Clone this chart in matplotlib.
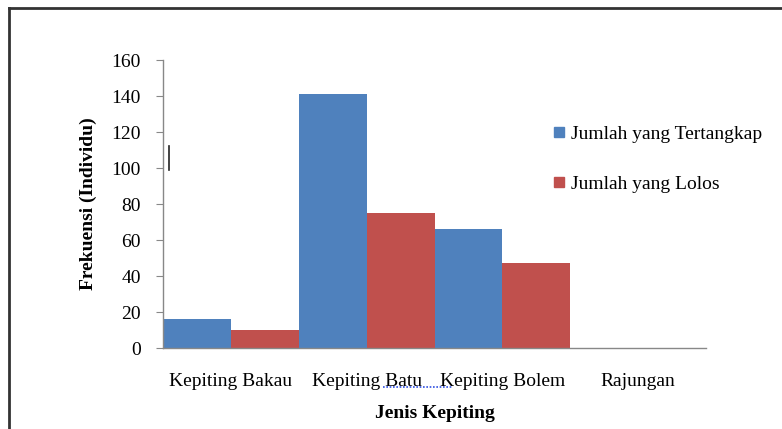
import numpy as np
import matplotlib.pyplot as plt
from matplotlib.lines import Line2D

# Data
jenis = ['Kepiting Bakau', 'Kepiting Batu', 'Kepiting Bolem', 'Rajungan']
tertangkap = [16, 141, 66, 0]
lolos = [10, 75, 47, 0]
series_names = ['Jumlah yang Tertangkap', 'Jumlah yang Lolos']
yticks = [0, 20, 40, 60, 80, 100, 120, 140, 160]

plt.rcParams['font.family'] = ['Liberation Serif', 'DejaVu Serif']

fig = plt.figure(figsize=(7.82, 4.29), dpi=100)
ax = fig.add_axes([0.2084, 0.1888, 0.6946, 0.6712])

x = np.arange(len(jenis))
w = 0.5
ax.bar(x - w / 2, tertangkap, w, color='#4F81BD', label=series_names[0])
ax.bar(x + w / 2, lolos, w, color='#C0504D', label=series_names[1])

ax.set_xlim(-0.5, len(jenis) - 0.5)
ax.set_ylim(0, 160)
ax.set_yticks(yticks)
ax.set_xticks(x)
ax.set_xticklabels(jenis, fontsize=14)
ax.tick_params(axis='y', labelsize=14, length=5, color='#888888', pad=11)
ax.tick_params(axis='x', length=0, pad=18)

for s in ['top', 'right']:
    ax.spines[s].set_visible(False)
for s in ['left', 'bottom']:
    ax.spines[s].set_color('#888888')
    ax.spines[s].set_linewidth(1)

ax.set_ylabel('Frekuensi (Individu)', fontsize=14, fontweight='bold', labelpad=10)
ax.set_xlabel('Jenis Kepiting', fontsize=14, fontweight='bold', labelpad=11)

# legend
handles = [Line2D([], [], marker='s', linestyle='', markersize=7, color='#4F81BD'),
           Line2D([], [], marker='s', linestyle='', markersize=7, color='#C0504D')]
fig.legend(handles, series_names, loc='upper left', bbox_to_anchor=(0.697, 0.727),
           frameon=False, fontsize=14, labelspacing=1.7, handlelength=0.6,
           handletextpad=0.35, borderaxespad=0)

# border frame of the original figure (left and top edges)
fig.add_artist(Line2D([9 / 782, 9 / 782], [0, 1 - 8 / 429], color='#333333', lw=2))
fig.add_artist(Line2D([9 / 782, 1], [1 - 8 / 429, 1 - 8 / 429], color='#333333', lw=2))

# small cursor mark near y-axis
fig.add_artist(Line2D([169 / 782, 169 / 782], [1 - 146 / 429, 1 - 170 / 429], color='#222222', lw=1.2))

# spell-check underline
fig.add_artist(Line2D([383 / 782, 452 / 782], [1 - 387 / 429, 1 - 387 / 429],
                      color='#3050e0', lw=1.2, linestyle=(0, (1, 1))))

fig.savefig('out.png', dpi=100)
